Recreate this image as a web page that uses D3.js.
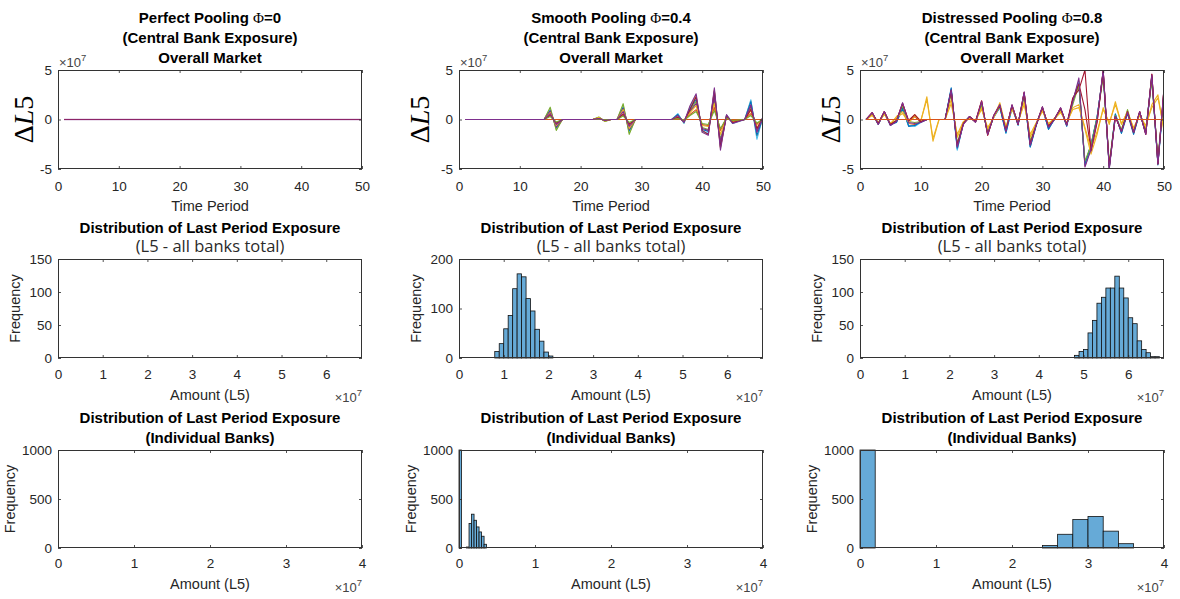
<!DOCTYPE html>
<html><head><meta charset="utf-8">
<script src="https://cdn.jsdelivr.net/npm/d3@7"></script>
<style>body{margin:0;background:#fff}svg{display:block}</style>
</head><body><svg id="c" width="1180" height="599"></svg>
<script>
// ---------------- DATA ----------------
const scenarioNames = ["Perfect Pooling", "Smooth Pooling", "Distressed Pooling"];
const phiValues = ["0", "0.4", "0.8"];
const timeTicks = [0, 10, 20, 30, 40, 50];
const deltaTicks = [-5, 0, 5];
const amountTicksTotal = [0, 1, 2, 3, 4, 5, 6];
const amountTicksBank = [0, 1, 2, 3, 4];
const freqTicksTotal = [[0, 50, 100, 150], [0, 100, 200], [0, 50, 100, 150]];
const freqMaxTotal = [150, 200, 150];
const freqTicksBank = [0, 500, 1000];
const periods = [1,2,3,4,5,6,7,8,9,10,11,12,13,14,15,16,17,18,19,20,21,22,23,24,25,26,27,28,29,30,31,32,33,34,35,36,37,38,39,40,41,42,43,44,45,46,47,48,49,50];

// ΔL5 (x1e7) per period, Φ=0: every bank flat
const flatZero = [0,0,0,0,0,0,0,0,0,0, 0,0,0,0,0,0,0,0,0,0, 0,0,0,0,0,0,0,0,0,0, 0,0,0,0,0,0,0,0,0,0, 0,0,0,0,0,0,0,0,0,0];

// Φ=0.4
const smoothBlue = [0,0,0,0,0,0,0,0,0,0,0,0,0,0, 0.9,-0.8,0,0,0,0,0,0, 0.2,-0.15,0,0,1.2,-1.1,0, 0,0,0,0,0,0, 0.5,-0.3,1.1,2.0,-1.0,-1.2,2.5,-2.4,0.4,-0.3,-0.1,0,1.8,-1.6,0.2];
const smoothGreen = [0,0,0,0,0,0,0,0,0,0,0,0,0,0, 1.25,-1.1,0,0,0,0,0,0, 0.25,-0.2,0,0,1.6,-1.5,0, 0,0,0,0,0,0, 0.3,-0.2,0.9,1.8,-0.8,-1.0,1.9,-2.0,0.3,-0.3,-0.1,0,1.2,-1.0,0.2];
const smoothLightBlue = [0,0,0,0,0,0,0,0,0,0,0,0,0,0, 1.0,-0.9,0,0,0,0,0,0, 0.15,-0.1,0,0,1.3,-1.2,0, 0,0,0,0,0,0, 0.6,-0.4,1.2,2.2,-1.2,-1.4,2.8,-2.7,0.45,-0.4,-0.2,0,2.0,-2.0,0.3];
const smoothPurple = [0,0,0,0,0,0,0,0,0,0,0,0,0,0, 0.6,-0.5,0,0,0,0,0,0, 0.1,-0.1,0,0,0.8,-0.7,0, 0,0,0,0,0,0, 0.4,-0.3,1.4,2.6,-1.3,-1.6,3.2,-3.1,0.5,-0.4,-0.2,0,1.5,-1.3,0.3];
const smoothDarkRed = [0,0,0,0,0,0,0,0,0,0,0,0,0,0, 0.4,-0.35,0,0,0,0,0,0, 0.05,-0.05,0,0,0.5,-0.45,0, 0,0,0,0,0,0, 0.2,-0.15,1.0,2.3,-1.1,-1.5,2.9,-2.8,0.35,-0.3,-0.15,0,1.0,-0.9,0.15];
const smoothYellow = [0,0,0,0,0,0,0,0,0,0,0,0,0,0, 0.7,-0.6,0,0,0,0,0,0, 0.2,-0.15,0,0,1.0,-0.9,0, 0,0,0,0,0,0, 0.35,-0.25,0.7,1.4,-0.6,-0.7,1.6,-1.5,0.25,-0.2,-0.1,0,0.9,-0.8,0.1];
const smoothOrangeB = [0,0,0,0,0,0,0,0,0,0,0,0,0,0, 0.5,-0.45,0,0,0,0,0,0, 0.1,-0.08,0,0,0.6,-0.55,0, 0,0,0,0,0,0, 0.15,-0.1,0.5,1.0,-0.5,-0.6,1.2,-1.1,0.2,-0.15,-0.05,0,0.6,-0.5,0.1];
const smoothYellowB = [0,0,0,0,0,0,0,0,0,0,0,0,0,0, 1.1,-1.0,0,0,0,0,0,0, 0.22,-0.18,0,0,1.45,-1.35,0, 0,0,0,0,0,0, 0.5,-0.35,1.3,2.4,-1.25,-1.5,3.0,-2.9,0.45,-0.35,-0.15,0,1.9,-1.8,0.25];
const smoothPurpleB = [0,0,0,0,0,0,0,0,0,0,0,0,0,0, 0.85,-0.75,0,0,0,0,0,0, 0.12,-0.1,0,0,1.1,-1.0,0, 0,0,0,0,0,0, 0.25,-0.2,0.8,1.6,-0.9,-1.1,2.2,-2.2,0.3,-0.25,-0.1,0,1.4,-1.2,0.2];
const smoothGreenB = [0,0,0,0,0,0,0,0,0,0,0,0,0,0, 0.3,-0.25,0,0,0,0,0,0, 0.05,-0.04,0,0,0.35,-0.3,0, 0,0,0,0,0,0, 0.1,-0.08,0.4,0.8,-0.4,-0.5,0.9,-0.9,0.15,-0.1,-0.05,0,0.4,-0.35,0.05];

// Φ=0.8
const distYellow = [0,0.5,-0.4,0.6,-0.5,0.3,0.8,-0.2,0.5,-0.2, 2.3,-2.2,0,0,2.0,-1.8,-0.3,0.2,-0.1,1.2, -1.0,0.3,1.7,-0.8,1.2,-0.3,1.8,-1.8,-0.4,1.0, -0.5,0.1,0.8,-0.4,1.2,1.5,-1.0,-3.5,-1.5,1.2, -0.5,1.8,-0.5,0.8,-1.0,0.5,-0.8,1.5,2.5,-1.2];
const distBlue = [0,0.6,-0.5,0.7,-0.5,-0.3,1.2,-0.7,-0.6,-0.2, 0,0,0,0,3.2,-3.0,-0.4,0.2,-0.2,1.5, -1.4,0.3,1.3,-1.3,1.3,-0.6,2.6,-2.8,-0.6,1.2, -1.0,0.1,1.0,-0.7,2.0,3.5,-4.5,-2.5,0.3,4.6, -4.8,0.5,-1.4,0.6,-1.5,0.7,-1.4,4.2,-4.6,2.6];
const distLightBlue = [0,0.5,-0.4,0.6,-0.6,-0.2,1.0,-0.6,-0.7,-0.3, 0,0,0,0,2.9,-3.1,-0.3,0.3,-0.2,1.4, -1.2,0.2,1.2,-1.4,1.1,-0.4,2.4,-2.7,-0.4,1.1, -0.9,0,1.1,-0.5,1.9,3.8,-4.6,-2.8,0.2,4.8, -4.9,0.6,-1.3,0.9,-1.3,0.6,-1.1,4.4,-4.4,2.8];
const distGreen = [0,0.6,-0.3,0.7,-0.4,-0.1,1.4,-0.2,-0.3,-0.2, 0,0,0,0,2.6,-2.4,-0.3,0.2,-0.2,1.5, -1.3,0.3,1.3,-1.0,1.3,-0.4,2.4,-2.2,-0.4,1.1, -0.6,0,1.0,-0.5,1.5,3.5,-4.2,-2.6,0.2,4.3, -4.4,0.4,-1.0,1.0,-1.2,0.7,-1.0,3.9,-3.9,2.6];
const distDarkRed = [0,0.7,-0.4,0.8,-0.5,-0.1,1.6,-0.1,0.5,-0.2, 0,0,0,0,2.9,-2.6,-0.4,0.3,-0.2,1.9, -1.6,0.4,1.4,-1.1,1.4,-0.5,2.7,-2.5,-0.5,1.2, -0.7,0.1,1.1,-0.5,2.2,3.0,5.0,-3.2,-0.3,4.9, -4.7,0.3,-1.2,0.8,-1.3,0.8,-1.5,4.6,-4.5,3.1];
const distPurple = [0,0.7,-0.5,0.8,-0.6,-0.2,1.7,-0.3,-0.4,-0.3, 0,0,0,0,3.0,-2.8,-0.5,0.3,-0.3,1.8, -1.5,0.4,1.5,-1.2,1.5,-0.5,2.8,-2.6,-0.5,1.3, -0.8,0,1.2,-0.6,1.8,4.2,-4.8,-3.0,0,5.0, -5.0,0.3,-1.2,0.7,-1.3,0.8,-1.5,4.5,-4.5,3.2];
const distOrangeB = [0,0.65,-0.45,0.75,-0.55,-0.15,1.5,-0.4,-0.5,-0.25, 0,0,0,0,2.8,-2.7,-0.45,0.25,-0.25,1.7, -1.45,0.35,1.45,-1.15,1.4,-0.45,2.7,-2.55,-0.45,1.25, -0.75,0.05,1.15,-0.55,1.9,3.9,-4.7,-2.9,0.1,4.9, -4.9,0.4,-1.25,0.75,-1.35,0.75,-1.3,4.4,-4.4,3.0];
const distYellowB = [0,0.4,-0.3,0.5,-0.4,0.2,0.6,-0.3,0.3,-0.1, 2.0,-1.9,0,0,1.6,-1.5,-0.2,0.1,-0.1,1.0, -0.8,0.2,1.4,-0.7,1.0,-0.2,1.5,-1.5,-0.3,0.8, -0.4,0.1,0.7,-0.3,1.0,1.2,-0.8,-3.0,-1.2,1.0, -0.3,1.5,-0.4,0.7,-0.8,0.4,-0.6,1.2,2.2,-1.0];
const distBlueB = [0,0.55,-0.45,0.65,-0.5,-0.25,1.1,-0.65,-0.6,-0.25, 0,0,0,0,3.1,-2.9,-0.35,0.25,-0.2,1.45, -1.3,0.25,1.25,-1.35,1.2,-0.5,2.5,-2.75,-0.5,1.15, -0.95,0.05,1.05,-0.6,1.95,3.6,-4.5,-2.6,0.25,4.7, -4.85,0.55,-1.35,0.75,-1.4,0.65,-1.25,4.3,-4.5,2.7];
const distDarkRedB = [0,0.7,-0.45,0.8,-0.55,-0.15,1.65,-0.2,0.3,-0.25, 0,0,0,0,2.95,-2.7,-0.45,0.3,-0.25,1.85, -1.55,0.4,1.45,-1.15,1.45,-0.5,2.75,-2.55,-0.5,1.25, -0.75,0.05,1.15,-0.55,2.0,3.6,1.0,-3.1,-0.15,4.95, -4.85,0.3,-1.2,0.75,-1.3,0.8,-1.5,4.55,-4.5,3.15];

// Histogram of last-period total exposure (x1e7 bin edges, counts)
const totalEdgesSmooth = [0.8,0.9,1.0,1.1,1.2,1.3,1.4,1.5,1.6,1.7,1.8,1.9,2.0,2.1];
const totalCountsSmooth = [13,29,59,86,140,170,164,120,95,58,34,12,4];
const totalEdgesDist = [4.8,4.9,5.0,5.1,5.2,5.3,5.4,5.5,5.6,5.7,5.8,5.9,6.0,6.1,6.2,6.3,6.4,6.5,6.6,6.7];
const totalCountsDist = [4,10,13,38,57,83,92,106,106,124,106,91,61,52,26,13,8,2,2];

// Histogram of last-period individual bank exposure
const bankEdgesSmooth = [0,0.033,0.066,0.099,0.132,0.165,0.198,0.231,0.264,0.297,0.33,0.363];
const bankCountsSmooth = [1000,0,0,10,250,345,283,215,164,120,38];
const bankEdgesDist = [0,0.2,0.4,0.6,0.8,1.0,1.2,1.4,1.6,1.8,2.0,2.2,2.4,2.6,2.8,3.0,3.2,3.4,3.6];
const bankCountsDist = [1000,0,0,0,0,0,0,0,0,0,0,0,25,140,290,322,172,44];

// ---------------- DRAWING ----------------
const SANS = '"Liberation Sans", Arial, Helvetica, sans-serif';
const SERIF = '"Liberation Serif", "Times New Roman", serif';
const C = {blue:'#0072BD', orange:'#D95319', yellow:'#EDB120', purple:'#7E2F8E', green:'#77AC30', lightblue:'#4DBEEE', darkred:'#A2142F'};
const AX = '#262626';
const svg = d3.select('#c');
svg.append('rect').attr('width',1180).attr('height',599).attr('fill','#fff');

const cols = [58, 459, 860], PW = 304;
const rowTop = {y:70, h:99}, rowMid = {y:259, h:99}, rowBot = {y:450, h:98};

function drawAxes(g, xs, ys, xt, yt, w, h, pad) {
  const fmt = d => String(d);
  const styleAx = sel => {
    sel.select('.domain').remove();
    sel.selectAll('.tick line').attr('stroke', AX).attr('stroke-width', 0.8);
    sel.selectAll('.tick text').attr('fill', AX).attr('font-family', SANS).attr('font-size', 13.5);
  };
  g.append('g').attr('transform', `translate(0,${h})`)
    .call(d3.axisBottom(xs).tickValues(xt).tickSizeInner(-3).tickSizeOuter(0).tickPadding(pad).tickFormat(fmt)).call(styleAx);
  g.append('g').call(d3.axisTop(xs).tickValues(xt).tickSizeInner(-3).tickSizeOuter(0).tickFormat('')).call(styleAx);
  g.append('g').call(d3.axisLeft(ys).tickValues(yt).tickSizeInner(-3).tickSizeOuter(0).tickPadding(6).tickFormat(fmt)).call(styleAx);
  g.append('g').attr('transform', `translate(${w},0)`)
    .call(d3.axisRight(ys).tickValues(yt).tickSizeInner(-3).tickSizeOuter(0).tickFormat('')).call(styleAx);
  g.append('rect').attr('x', 0.5).attr('y', 0.5).attr('width', w - 1).attr('height', h - 1)
    .attr('fill', 'none').attr('stroke', '#333').attr('stroke-width', 1);
}

function sci(x, y, anchor) {
  const t = svg.append('text').attr('x', x).attr('y', y).attr('text-anchor', anchor)
    .attr('font-family', SANS).attr('font-size', 13).attr('fill', '#444');
  t.append('tspan').text('\u00D710');
  t.append('tspan').attr('dy', -6).attr('font-size', 9.5).text('7');
}

function title(cx, y, parts, opts) {
  const t = svg.append('text').attr('x', cx).attr('y', y).attr('text-anchor', 'middle')
    .attr('font-family', opts.family || SANS).attr('font-size', opts.size || 15)
    .attr('font-weight', opts.weight || 'bold').attr('fill', opts.fill || '#000');
  parts.forEach(p => {
    const s = t.append('tspan').text(p.text);
    if (p.serif) s.attr('font-family', SERIF).attr('font-weight', 'normal');
  });
}

function ylabelRot(x, y, build) {
  const t = svg.append('text').attr('transform', `translate(${x},${y}) rotate(-90)`)
    .attr('text-anchor', 'middle').attr('dominant-baseline', 'central');
  build(t);
}

// ---------- Top row: line plots ----------
const linePanels = [
  [{v:flatZero,c:'blue'},{v:flatZero,c:'orange'},{v:flatZero,c:'yellow'},{v:flatZero,c:'green'},{v:flatZero,c:'lightblue'},{v:flatZero,c:'darkred'},{v:flatZero,c:'purple'}],
  [{v:flatZero,c:'orange'},{v:smoothYellowB,c:'yellow'},{v:smoothLightBlue,c:'lightblue'},{v:smoothBlue,c:'blue'},{v:smoothGreen,c:'green'},
   {v:smoothPurpleB,c:'purple'},{v:smoothYellow,c:'yellow'},{v:smoothOrangeB,c:'orange'},{v:smoothDarkRed,c:'darkred'},{v:smoothGreenB,c:'green'},{v:smoothPurple,c:'purple'}],
  [{v:distBlue,c:'blue'},{v:distOrangeB,c:'orange'},{v:distLightBlue,c:'lightblue'},{v:distBlueB,c:'blue'},{v:distGreen,c:'green'},{v:distYellow,c:'yellow'},
   {v:distDarkRedB,c:'darkred'},{v:distYellowB,c:'yellow'},{v:distDarkRed,c:'darkred'},{v:distPurple,c:'purple'},{v:flatZero,c:'orange'}]
];
const dlOffsets = [-35, -40, -30];

cols.forEach((x0, i) => {
  const {y, h} = rowTop;
  const g = svg.append('g').attr('transform', `translate(${x0},${y})`);
  const xs = d3.scaleLinear().domain([0, 50]).range([0, PW]);
  const ys = d3.scaleLinear().domain([-5, 5]).range([h, 0]);
  const cid = 'clipTop' + i;
  g.append('clipPath').attr('id', cid).append('rect').attr('width', PW).attr('height', h);
  const lg = g.append('g').attr('clip-path', `url(#${cid})`);
  const line = d3.line().x((d, k) => xs(periods[k])).y(d => ys(d));
  linePanels[i].forEach((s, k) => {
    const isLastFlat = (i === 0 && k === linePanels[i].length - 1);
    lg.append('path').attr('d', line(s.v)).attr('fill', 'none')
      .attr('stroke', C[s.c]).attr('stroke-width', isLastFlat ? 1.6 : 1.1)
      .attr('stroke-opacity', isLastFlat ? 0.6 : 1).attr('stroke-linejoin', 'round');
  });
  drawAxes(g, xs, ys, timeTicks, deltaTicks, PW, h, 12);
  const cx = x0 + PW / 2;
  title(cx, 22.5, [{text: scenarioNames[i] + ' '}, {text: '\u03A6', serif: true}, {text: '=' + phiValues[i]}], {});
  title(cx, 42.5, [{text: '(Central Bank Exposure)'}], {});
  title(cx, 62.5, [{text: 'Overall Market'}], {});
  sci(x0 + 1, 67, 'start');
  svg.append('text').attr('x', cx).attr('y', 211).attr('text-anchor', 'middle')
    .attr('font-family', SANS).attr('font-size', 14.5).attr('fill', AX).text('Time Period');
  ylabelRot(x0 + dlOffsets[i], y + h / 2, t => {
    t.attr('font-family', SERIF).attr('font-size', 28).attr('fill', '#000');
    t.append('tspan').text('\u0394');
    t.append('tspan').attr('font-style', 'italic').text('L');
    t.append('tspan').text('5');
  });
});

// ---------- Middle row: total exposure histograms ----------
const totalHists = [null, {e: totalEdgesSmooth, n: totalCountsSmooth}, {e: totalEdgesDist, n: totalCountsDist}];
const bankHists = [null, {e: bankEdgesSmooth, n: bankCountsSmooth}, {e: bankEdgesDist, n: bankCountsDist}];

function drawHist(g, xs, ys, hist, ymax) {
  if (!hist) return;
  hist.n.forEach((n, k) => {
    if (n <= 0) return;
    const v = Math.min(n, ymax);
    g.append('rect').attr('x', xs(hist.e[k])).attr('width', xs(hist.e[k + 1]) - xs(hist.e[k]))
      .attr('y', ys(v)).attr('height', ys(0) - ys(v))
      .attr('fill', '#66AAD7').attr('stroke', '#111').attr('stroke-width', 0.8);
  });
}

cols.forEach((x0, i) => {
  const {y, h} = rowMid;
  const g = svg.append('g').attr('transform', `translate(${x0},${y})`);
  const xs = d3.scaleLinear().domain([0, 6.8]).range([0, PW]);
  const ys = d3.scaleLinear().domain([0, freqMaxTotal[i]]).range([h, 0]);
  drawHist(g, xs, ys, totalHists[i], freqMaxTotal[i]);
  drawAxes(g, xs, ys, amountTicksTotal, freqTicksTotal[i], PW, h, 11);
  const cx = x0 + PW / 2;
  title(cx, 232.5, [{text: 'Distribution of Last Period Exposure'}], {});
  title(cx, 251.5, [{text: '(L5 - all banks total)'}], {family: '"Open Sans", "Noto Sans", sans-serif', size: 16.5, weight: 'normal', fill: '#2a2a2a'});
  svg.append('text').attr('x', cx).attr('y', 400).attr('text-anchor', 'middle')
    .attr('font-family', SANS).attr('font-size', 14.5).attr('fill', AX).text('Amount (L5)');
  sci(x0 + PW, 402, 'end');
  ylabelRot(x0 - 43, y + h / 2, t => {
    t.attr('font-family', SANS).attr('font-size', 14.5).attr('fill', AX).text('Frequency');
  });
});

// ---------- Bottom row: individual bank histograms ----------
cols.forEach((x0, i) => {
  const {y, h} = rowBot;
  const g = svg.append('g').attr('transform', `translate(${x0},${y})`);
  const xs = d3.scaleLinear().domain([0, 4]).range([0, PW]);
  const ys = d3.scaleLinear().domain([0, 1000]).range([h, 0]);
  drawHist(g, xs, ys, bankHists[i], 1000);
  drawAxes(g, xs, ys, amountTicksBank, freqTicksBank, PW, h, 10);
  const cx = x0 + PW / 2;
  title(cx, 422.5, [{text: 'Distribution of Last Period Exposure'}], {});
  title(cx, 442.5, [{text: '(Individual Banks)'}], {});
  svg.append('text').attr('x', cx).attr('y', 589).attr('text-anchor', 'middle')
    .attr('font-family', SANS).attr('font-size', 14.5).attr('fill', AX).text('Amount (L5)');
  sci(x0 + PW, 592, 'end');
  ylabelRot(x0 - 48, y + h / 2, t => {
    t.attr('font-family', SANS).attr('font-size', 14.5).attr('fill', AX).text('Frequency');
  });
});
</script></body></html>
